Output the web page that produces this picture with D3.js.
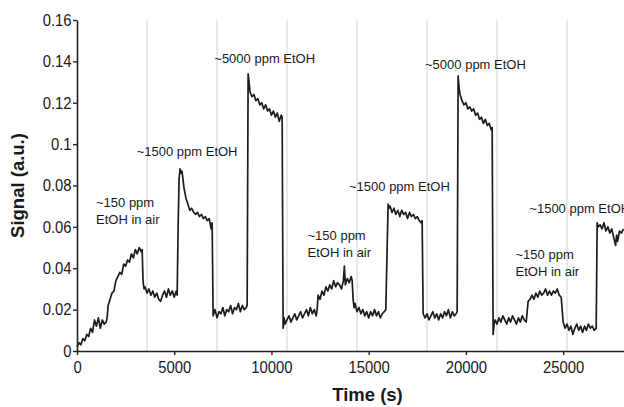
<!DOCTYPE html>
<html>
<head>
<meta charset="utf-8">
<script src="https://cdn.jsdelivr.net/npm/d3@7/dist/d3.min.js"></script>
<style>
  html, body { margin: 0; padding: 0; background: #fff; }
  svg { display: block; }
  text { font-family: "Liberation Sans", Arial, sans-serif; fill: #1a1a1a; }
</style>
</head>
<body>
<script>
// Sensor response to ethanol pulses: [time (s), signal (a.u.)]
const signalTrace = [
  [0,0.002],[100,0.004],[200,0.003],[300,0.006],[400,0.005],[500,0.008],[600,0.007],[700,0.011],
  [800,0.009],[900,0.015],[1000,0.012],[1100,0.016],[1200,0.011],[1300,0.015],[1400,0.013],[1500,0.014],
  [1550,0.016],[1600,0.022],[1700,0.025],[1800,0.028],[1900,0.029],[2000,0.034],[2100,0.036],[2200,0.038],
  [2300,0.037],[2400,0.042],[2500,0.041],[2600,0.044],[2700,0.043],[2800,0.047],[2900,0.045],[3000,0.049],
  [3100,0.047],[3200,0.050],[3300,0.048],[3350,0.049],
  [3400,0.033],[3450,0.030],[3500,0.031],[3600,0.028],[3700,0.030],[3800,0.027],[3900,0.029],[4000,0.026],
  [4100,0.028],[4200,0.025],[4300,0.024],[4400,0.027],[4500,0.029],[4600,0.026],[4700,0.030],[4800,0.027],
  [4900,0.029],[5000,0.026],[5100,0.029],[5150,0.027],
  [5200,0.060],[5250,0.083],[5300,0.088],[5350,0.086],[5400,0.087],[5450,0.083],[5500,0.079],[5600,0.074],
  [5700,0.071],[5800,0.068],[5900,0.069],[6000,0.067],[6100,0.066],[6200,0.067],[6300,0.065],[6400,0.066],
  [6500,0.064],[6600,0.065],[6700,0.063],[6800,0.064],[6900,0.059],[6950,0.062],
  [7000,0.017],[7100,0.020],[7200,0.016],[7300,0.019],[7400,0.018],[7500,0.021],[7600,0.017],[7700,0.020],
  [7800,0.019],[7900,0.022],[8000,0.018],[8100,0.021],[8200,0.020],[8300,0.023],[8400,0.019],[8500,0.022],
  [8600,0.020],[8700,0.021],[8750,0.022],
  [8800,0.134],[8850,0.130],[8900,0.125],[9000,0.123],[9100,0.124],[9200,0.121],[9300,0.122],[9400,0.119],
  [9500,0.120],[9600,0.117],[9700,0.119],[9800,0.116],[9900,0.117],[10000,0.114],[10100,0.116],[10200,0.113],
  [10300,0.115],[10400,0.111],[10500,0.114],[10550,0.113],
  [10600,0.011],[10650,0.016],[10700,0.013],[10800,0.015],[10900,0.017],[11000,0.014],[11100,0.016],[11200,0.018],
  [11300,0.015],[11400,0.017],[11500,0.019],[11600,0.016],[11700,0.018],[11800,0.020],[11900,0.017],[12000,0.021],
  [12100,0.018],[12200,0.020],[12300,0.017],
  [12350,0.020],[12400,0.027],[12500,0.025],[12600,0.029],[12700,0.027],[12800,0.031],[12900,0.029],[13000,0.032],
  [13100,0.030],[13200,0.034],[13300,0.031],[13400,0.033],[13500,0.032],[13600,0.030],[13700,0.034],[13750,0.041],
  [13800,0.032],[13900,0.035],[14000,0.033],[14100,0.036],[14150,0.034],
  [14200,0.025],[14250,0.021],[14300,0.023],[14400,0.019],[14500,0.021],[14600,0.018],[14700,0.020],[14800,0.017],
  [14900,0.019],[15000,0.016],[15100,0.019],[15200,0.017],[15300,0.020],[15400,0.017],[15500,0.019],[15600,0.016],
  [15700,0.018],[15800,0.019],[15880,0.020],
  [16000,0.071],[16050,0.069],[16100,0.070],[16200,0.067],[16300,0.069],[16400,0.066],[16500,0.068],[16600,0.065],
  [16700,0.068],[16800,0.066],[16900,0.067],[17000,0.064],[17100,0.067],[17200,0.065],[17300,0.066],[17400,0.064],
  [17500,0.065],[17600,0.063],[17700,0.062],[17750,0.063],
  [17800,0.018],[17900,0.016],[18000,0.018],[18100,0.015],[18200,0.017],[18300,0.019],[18400,0.016],[18500,0.018],
  [18600,0.015],[18700,0.018],[18800,0.016],[18900,0.019],[19000,0.017],[19100,0.020],[19200,0.016],[19300,0.019],
  [19400,0.017],[19500,0.018],[19550,0.019],
  [19600,0.133],[19650,0.127],[19700,0.124],[19800,0.121],[19900,0.119],[20000,0.120],[20100,0.117],[20200,0.118],
  [20300,0.116],[20400,0.117],[20500,0.114],[20600,0.115],[20700,0.112],[20800,0.113],[20900,0.110],[21000,0.112],
  [21100,0.109],[21200,0.110],[21300,0.107],[21350,0.108],
  [21400,0.008],[21450,0.013],[21500,0.015],[21600,0.013],[21700,0.016],[21800,0.014],[21900,0.017],[22000,0.015],
  [22100,0.013],[22200,0.016],[22300,0.014],[22400,0.017],[22500,0.015],[22600,0.013],[22700,0.016],[22800,0.014],
  [22900,0.017],[23000,0.015],[23100,0.014],
  [23200,0.024],[23300,0.025],[23400,0.027],[23500,0.025],[23600,0.028],[23700,0.026],[23800,0.029],[23900,0.027],
  [24000,0.028],[24100,0.030],[24200,0.027],[24300,0.029],[24400,0.027],[24500,0.029],[24600,0.028],[24700,0.030],
  [24800,0.027],[24900,0.026],
  [25000,0.014],[25100,0.011],[25200,0.013],[25300,0.010],[25400,0.012],[25500,0.008],[25600,0.011],[25700,0.013],
  [25800,0.010],[25900,0.012],[26000,0.009],[26100,0.012],[26200,0.010],[26300,0.013],[26400,0.011],[26500,0.012],
  [26600,0.010],[26700,0.011],
  [26750,0.062],[26800,0.060],[26900,0.061],[27000,0.059],[27100,0.062],[27200,0.058],[27300,0.060],[27400,0.057],
  [27500,0.059],[27600,0.055],[27700,0.051],[27750,0.056],[27800,0.053],[27900,0.058],[28000,0.057],[28100,0.059]
];

// Hourly markers (s)
const hourMarks = [3600, 7200, 10800, 14400, 18000, 21600, 25200];

// Axis ticks
const timeTicks = [0, 5000, 10000, 15000, 20000, 25000];
const signalTicks = [0, 0.02, 0.04, 0.06, 0.08, 0.1, 0.12, 0.14, 0.16];

// Exposure labels, anchored at [time, signal] of the first line
const exposureLabels = [
  { lines: ["~150 ppm", "EtOH in air"], time: 977,   signal: 0.0698 },
  { lines: ["~1500 ppm EtOH"],          time: 3070,  signal: 0.0942 },
  { lines: ["~5000 ppm EtOH"],          time: 7061,  signal: 0.1392 },
  { lines: ["~150 ppm", "EtOH in air"], time: 11855, signal: 0.0536 },
  { lines: ["~1500 ppm EtOH"],          time: 13989, signal: 0.0773 },
  { lines: ["~5000 ppm EtOH"],          time: 17898, signal: 0.1365 },
  { lines: ["~150 ppm", "EtOH in air"], time: 22552, signal: 0.0444 },
  { lines: ["~1500 ppm EtOH"],          time: 23262, signal: 0.0669 }
];

const width = 624, height = 407;
const plot = { left: 77, top: 20, bottom: 351, right: 624 };

const svg = d3.select("body").append("svg")
  .attr("width", width).attr("height", height);

const x = d3.scaleLinear().domain([0, 28130]).range([plot.left, plot.right]);
const y = d3.scaleLinear().domain([0, 0.16]).range([plot.bottom, plot.top]);

// hourly grid lines
svg.append("g").selectAll("line").data(hourMarks).join("line")
  .attr("x1", d => x(d)).attr("x2", d => x(d))
  .attr("y1", plot.top).attr("y2", plot.bottom)
  .attr("stroke", "#d2d2d2").attr("stroke-width", 1);

// signal trace
const line = d3.line().x(d => x(d[0])).y(d => y(d[1]));
svg.append("path").datum(signalTrace)
  .attr("d", line)
  .attr("fill", "none")
  .attr("stroke", "#1c1c1c")
  .attr("stroke-width", 1.7)
  .attr("stroke-linejoin", "round");

// axes
const xAxis = d3.axisBottom(x).tickValues(timeTicks).tickFormat(d3.format("d"))
  .tickSize(4).tickSizeOuter(0).tickPadding(6);
const yAxis = d3.axisLeft(y).tickValues(signalTicks).tickFormat(d => d === 0 ? "0" : String(+d.toFixed(2)))
  .tickSize(4).tickSizeOuter(0).tickPadding(2);

const gx = svg.append("g").attr("transform", `translate(0,${plot.bottom})`).call(xAxis);
const gy = svg.append("g").attr("transform", `translate(${plot.left},0)`).call(yAxis);

[gx, gy].forEach(g => {
  g.select(".domain").attr("stroke", "#222").attr("stroke-width", 1.6);
  g.selectAll(".tick line").attr("stroke", "#222").attr("stroke-width", 1.4);
  g.selectAll(".tick text")
    .attr("fill", "#1a1a1a")
    .attr("transform", "scale(0.9,1)")
    .style("font-family", '"Liberation Sans", Arial, sans-serif')
    .style("font-size", "16.5px");
});

// axis titles
svg.append("text")
  .attr("x", 367.5).attr("y", 401)
  .attr("text-anchor", "middle")
  .style("font-size", "18.5px").style("font-weight", "bold")
  .text("Time (s)");

svg.append("text")
  .attr("transform", "translate(24,185.5) rotate(-90)")
  .attr("text-anchor", "middle")
  .style("font-size", "18.5px").style("font-weight", "bold")
  .text("Signal (a.u.)");

// exposure annotations
const ann = svg.append("g").selectAll("text").data(exposureLabels).join("text")
  .attr("x", d => x(d.time))
  .attr("y", d => y(d.signal))
  .style("font-size", "13px");
ann.selectAll("tspan").data(d => d.lines.map(t => ({ t, x: x(d.time) }))).join("tspan")
  .attr("x", d => d.x)
  .attr("dy", (d, i) => i === 0 ? 0 : 17)
  .text(d => d.t);
</script>
</body>
</html>
